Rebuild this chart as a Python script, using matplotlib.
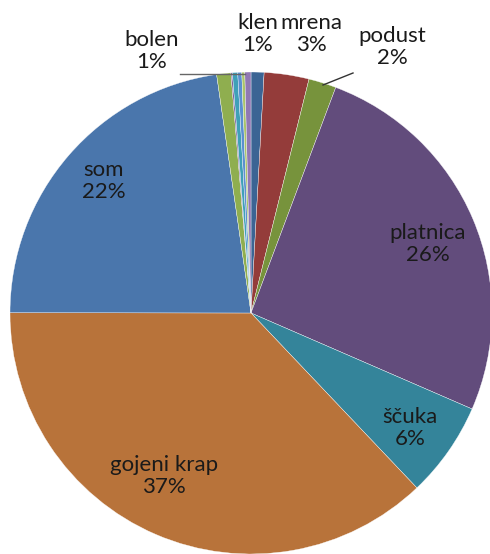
import matplotlib.pyplot as plt

plt.rcParams["font.family"] = ["Lato", "DejaVu Sans"]

# %% data (clockwise from 12 o'clock)
names = ['klen', 'mrena', 'podust', 'platnica', 'ščuka', 'gojeni krap', 'som',
         'bolen', 'ostalo 1', 'ostalo 2', 'ostalo 3', 'ostalo 4', 'ostalo 5']
shares = [0.87, 3.0, 1.85, 25.8, 6.4, 37.1, 22.7, 0.95, 0.1, 0.35, 0.27, 0.2, 0.41]
labels = ['klen\n1%', 'mrena\n3%', 'podust\n2%', 'platnica\n26%', 'ščuka\n6%',
          'gojeni krap\n37%', 'som\n22%', 'bolen\n1%', '', '', '', '', '']
colors = ['#3B6494', '#943C3A', '#77933C', '#624C7C', '#34849A', '#B8733A',
          '#4A76AC', '#8FAE4F', '#7A5C9E', '#3FA0B8', '#5B8FD0', '#A9C46A', '#9078B4']

# label positions in pixels of the 490x554 picture
label_px = {'klen': (258, 34), 'mrena': (311, 34), 'podust': (392, 47),
            'platnica': (428, 244), 'ščuka': (410, 428), 'gojeni krap': (164, 476),
            'som': (104, 181), 'bolen': (152, 51)}

W, H = 490, 554
cx, cy, R = 251, 313, 241


def to_data(px, py):
    return (px - cx) / R, (cy - py) / R


fig = plt.figure(figsize=(W / 100, H / 100), dpi=100)
ax = fig.add_axes([0, 0, 1, 1])

ax.pie(shares, colors=colors, startangle=90, counterclock=False, radius=1,
       wedgeprops=dict(linewidth=0.25, edgecolor='white'))

for name, lab in zip(names, labels):
    if not lab:
        continue
    x, y = to_data(*label_px[name])
    ax.text(x, y, lab, ha='center', va='center', fontsize=16, linespacing=1.08,
            color='#1a1a1a')

# leader lines
ax.plot(*zip(to_data(180, 74), to_data(245, 74)), color='#666666', lw=1)
ax.plot(*zip(to_data(323, 85), to_data(353, 73)), color='#333333', lw=1)

ax.set_xlim((0 - cx) / R, (W - cx) / R)
ax.set_ylim((cy - H) / R, cy / R)
ax.set_aspect('equal')
ax.axis('off')

plt.savefig('out.png', dpi=100)
